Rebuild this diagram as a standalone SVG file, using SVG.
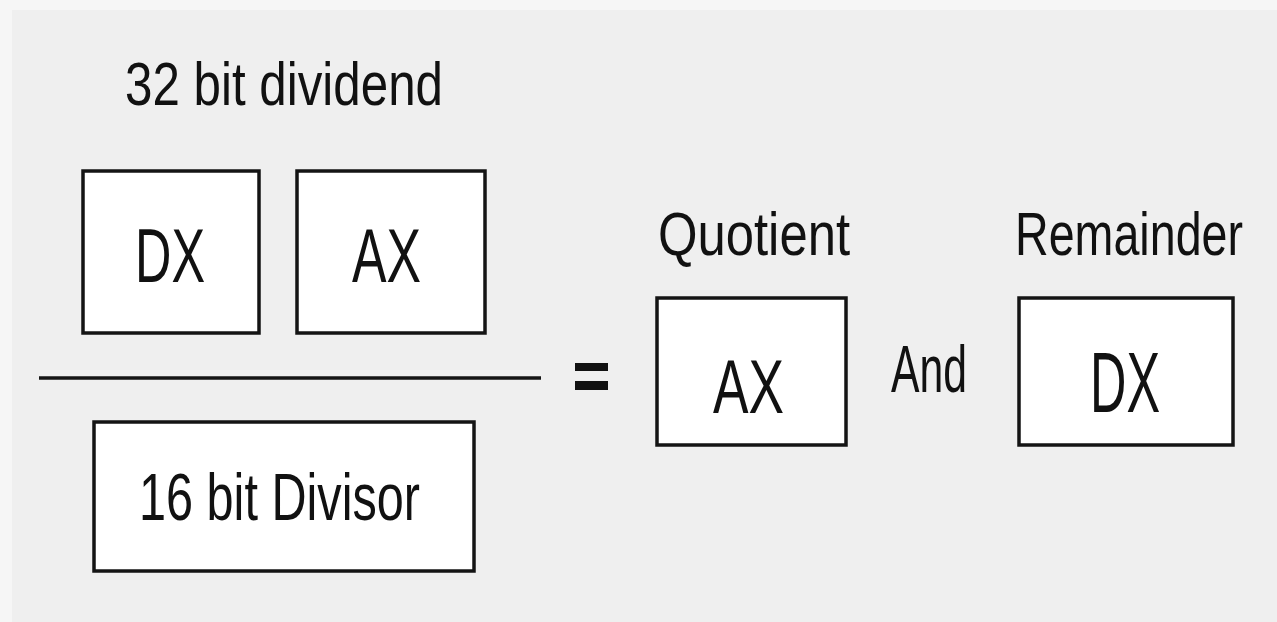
<svg xmlns="http://www.w3.org/2000/svg" width="1277" height="622" viewBox="0 0 1277 622">
  <style>
    .box { fill: #ffffff; stroke: #141414; stroke-width: 3.5; }
    .txt { font-family: "Liberation Sans", Arial, sans-serif; fill: #111111; }
    .lbl { font-size: 62px; }
    .reg { font-size: 76px; }
  </style>

  <!-- page background and panel -->
  <rect x="0" y="0" width="1277" height="622" fill="#f6f6f6"/>
  <rect x="12" y="10" width="1265" height="612" fill="#efefef"/>

  <!-- dividend -->
  <g id="dividend-label">
    <text class="txt lbl" x="125" y="105" textLength="318" lengthAdjust="spacingAndGlyphs">32 bit dividend</text>
  </g>
  <g id="dividend-dx">
    <rect class="box" x="83" y="171" width="176" height="162"/>
    <text class="txt reg" x="135" y="282" textLength="70" lengthAdjust="spacingAndGlyphs">DX</text>
  </g>
  <g id="dividend-ax">
    <rect class="box" x="297" y="171" width="188" height="162"/>
    <text class="txt reg" x="352" y="282" textLength="69" lengthAdjust="spacingAndGlyphs">AX</text>
  </g>

  <!-- fraction bar and equals sign -->
  <g id="connectors">
    <line x1="39" y1="378" x2="541" y2="378" stroke="#141414" stroke-width="3.5"/>
    <rect x="575" y="363" width="33" height="8" fill="#111111"/>
    <rect x="575" y="381" width="33" height="9" fill="#111111"/>
  </g>

  <!-- divisor -->
  <g id="divisor">
    <rect class="box" x="94" y="422" width="380" height="149" stroke-width="4"/>
    <text class="txt" font-size="66" x="139" y="520" textLength="281" lengthAdjust="spacingAndGlyphs">16 bit Divisor</text>
  </g>

  <!-- results -->
  <g id="quotient">
    <text class="txt lbl" x="658" y="255" textLength="192" lengthAdjust="spacingAndGlyphs">Quotient</text>
    <rect class="box" x="657" y="298" width="189" height="147"/>
    <text class="txt reg" x="713" y="413" textLength="71" lengthAdjust="spacingAndGlyphs">AX</text>
  </g>
  <g id="and-label">
    <text class="txt" font-size="66" x="891" y="392" textLength="76" lengthAdjust="spacingAndGlyphs">And</text>
  </g>
  <g id="remainder">
    <!-- condensed horizontally so the label stays inside the panel -->
    <text class="txt lbl" transform="translate(1015 255) scale(0.752 1)">Remainder</text>
    <rect class="box" x="1019" y="298" width="214" height="147"/>
    <text class="txt" font-size="86" x="1090" y="412" textLength="70" lengthAdjust="spacingAndGlyphs">DX</text>
  </g>
</svg>
